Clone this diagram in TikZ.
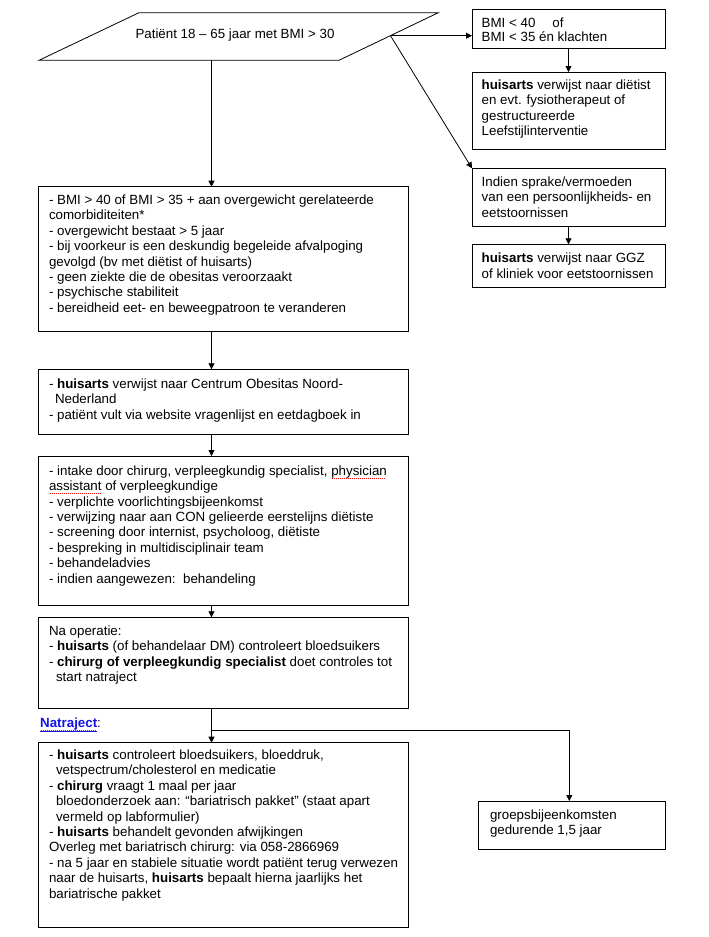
\documentclass[tikz,border=0pt]{standalone}
\usepackage{fontspec}
\setmainfont{Liberation Sans}
\usetikzlibrary{arrows.meta}
\definecolor{natblue}{RGB}{20,20,230}
\newcommand\fs{\fontsize{13.33}{15.4}\selectfont}
\newcommand\mystrut{\rule{0pt}{10.5pt}}
\newcommand\spellmark[1]{\setbox0\hbox{#1}\rlap{\raisebox{-3pt}{\textcolor{red}{\leaders\hbox to 2pt{\hss\rule{1pt}{0.7pt}\hss}\hskip\wd0}}}#1}
\begin{document}
\begin{tikzpicture}[x=1pt,y=-1pt,
  bx/.style={draw, line width=0.8pt, anchor=north west, inner sep=0pt, outer sep=0pt},
  txt/.style={anchor=north west, inner sep=0pt, outer sep=0pt, align=left, font=\fs},
  arr/.style={line width=0.8pt, -{Triangle[length=6pt,width=6pt]}},
  ln/.style={line width=0.8pt}]
\useasboundingbox (0,0) rectangle (709,937);
% start parallelogram
\draw[ln] (139,12.7) -- (438.3,12.7) -- (339,60.3) -- (39,60.3) -- cycle;
\node[anchor=base, inner sep=0pt, font=\fs] (P) at (235,38.8) {Patiënt 18 – 65 jaar met BMI > 30};
\coordinate (Pbot) at (211.5,60.3);
\coordinate (Pr) at (390.5,35.7);
% right column
\node[bx, minimum width=193pt, minimum height=39pt] (R1) at (472,9.3) {};
\node[txt, font=\fontsize{13.33}{14}\selectfont] (R1t) at (481.7,16.7) {\mystrut BMI < 40\hspace{17pt}of\\BMI < 35 én klachten};
\node[bx, minimum width=193pt, minimum height=77pt] (R2) at (472,72) {};
\node[txt] (R2t) at (481.7,79) {\mystrut\textbf{huisarts} verwijst naar diëtist\\en evt. fysiotherapeut of\\gestructureerde\\Leefstijlinterventie};
\node[bx, minimum width=193pt, minimum height=57.7pt] (R3) at (472,168.3) {};
\node[txt] (R3t) at (481.7,175.7) {\mystrut Indien sprake/vermoeden\\van een persoonlijkheids- en\\eetstoornissen};
\node[bx, minimum width=193pt, minimum height=43.4pt] (R4) at (472,244.3) {};
\node[txt] (R4t) at (481.7,252.3) {\mystrut\textbf{huisarts} verwijst naar GGZ\\of kliniek voor eetstoornissen};
% main column
\node[bx, minimum width=370pt, minimum height=145pt] (A) at (38.3,186.7) {};
\node[txt] (At) at (49,194) {\mystrut - BMI > 40 of BMI > 35 + aan overgewicht gerelateerde\\comorbiditeiten*\\- overgewicht bestaat > 5 jaar\\- bij voorkeur is een deskundig begeleide afvalpoging\\gevolgd (bv met diëtist of huisarts)\\- geen ziekte die de obesitas veroorzaakt\\- psychische stabiliteit\\- bereidheid eet- en beweegpatroon te veranderen};
\node[bx, minimum width=370pt, minimum height=64.7pt] (B) at (38.3,369.3) {};
\node[txt] (Bt) at (49,378) {\mystrut - \textbf{huisarts} verwijst naar Centrum Obesitas Noord-\\\hspace*{6pt}Nederland\\- patiënt vult via website vragenlijst en eetdagboek in};
\node[bx, minimum width=370pt, minimum height=149.7pt] (C) at (38.3,456) {};
\node[txt] (Ct) at (49,464.7) {\mystrut - intake door chirurg, verpleegkundig specialist, \spellmark{physician}\\\spellmark{assistant} of verpleegkundige\\- verplichte voorlichtingsbijeenkomst\\- verwijzing naar aan CON gelieerde eerstelijns diëtiste\\- screening door internist, psycholoog, diëtiste\\- bespreking in multidisciplinair team\\- behandeladvies\\- indien aangewezen:\ \ behandeling};
\node[bx, minimum width=370pt, minimum height=91pt] (D) at (38.3,617.3) {};
\node[txt] (Dt) at (49,624.7) {\mystrut Na operatie:\\- \textbf{huisarts} (of behandelaar DM) controleert bloedsuikers\\- \textbf{chirurg of verpleegkundig specialist} doet controles tot\\\hspace*{7pt}start natraject};
\node[anchor=base west, inner sep=0pt, font=\fs] (N) at (40,727.5) {\spellmark{\textcolor{natblue}{\underline{\textbf{Natraject}}}}:};
\node[bx, minimum width=370pt, minimum height=184.6pt] (F) at (38.3,742.7) {};
\node[txt] (Ft) at (49,749) {\mystrut - \textbf{huisarts} controleert bloedsuikers, bloeddruk,\\\hspace*{7pt}vetspectrum/cholesterol en medicatie\\- \textbf{chirurg} vraagt 1 maal per jaar\\\hspace*{7pt}bloedonderzoek aan: “bariatrisch pakket” (staat apart\\\hspace*{7pt}vermeld op labformulier)\\- \textbf{huisarts} behandelt gevonden afwijkingen\\Overleg met bariatrisch chirurg: via 058-2866969\\- na 5 jaar en stabiele situatie wordt patiënt terug verwezen\\naar de huisarts, \textbf{huisarts} bepaalt hierna jaarlijks het\\bariatrische pakket};
\node[bx, minimum width=187.4pt, minimum height=48pt] (E) at (478.3,801) {};
\node[txt] (Et) at (490,809) {\mystrut groepsbijeenkomsten\\gedurende 1,5 jaar};
% connectors
\draw[arr] (Pr) -- (Pr -| R1.west);
\draw[arr] (Pr) -- (R3.north west);
\draw[arr] (R1.south) -- (R2.north);
\draw[arr] (R3.south) -- (R4.north);
\draw[arr] (Pbot) -- (Pbot |- A.north);
\draw[arr] (A.south -| Pbot) -- (B.north -| Pbot);
\draw[arr] (B.south -| Pbot) -- (C.north -| Pbot);
\draw[arr] (C.south -| Pbot) -- (D.north -| Pbot);
\draw[arr] (D.south -| Pbot) -- (F.north -| Pbot);
\coordinate (J) at (211.5,730);
\draw[arr] (J) -| ([xshift=-2.7pt]E.north);
\end{tikzpicture}
\end{document}
